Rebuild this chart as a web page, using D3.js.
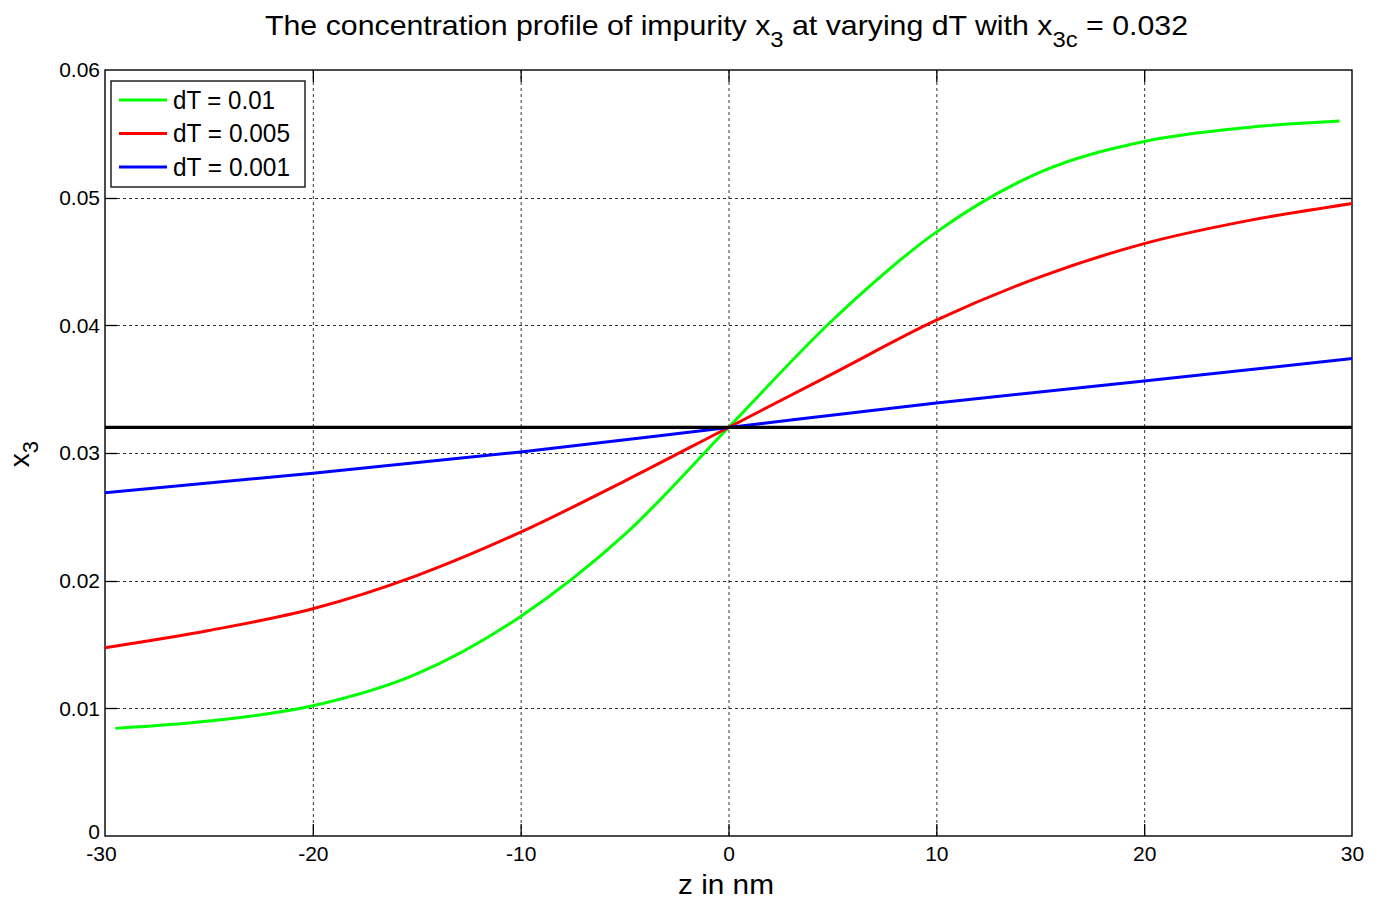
<!DOCTYPE html>
<html>
<head>
<meta charset="utf-8">
<script src="https://cdn.jsdelivr.net/npm/d3@7"></script>
<style>
  html, body { margin: 0; padding: 0; background: #fff; }
  svg { display: block; font-family: "Liberation Sans", Arial, sans-serif; }
</style>
</head>
<body>
<svg id="chart" width="1380" height="899"></svg>
<script>
// Concentration of impurity x3 across the interface, z in nm
const zGreen  = [-29.5, -25, -20, -15, -10, -5, 0, 5, 10, 15, 20, 25, 29.4];
const x3Green = [0.00843, 0.0090, 0.0102, 0.0127, 0.0172, 0.0236, 0.0320, 0.0404, 0.0473, 0.0520, 0.0544, 0.0555, 0.0560];

const zRed  = [-30, -25, -20, -15, -10, -5, 0, 5, 10, 15, 20, 25, 30];
const x3Red = [0.01475, 0.0161, 0.0178, 0.0204, 0.0238, 0.0278, 0.0320, 0.0362, 0.0404, 0.0438, 0.0464, 0.0482, 0.04955];

const zBlue  = [-30, -20, -10, 0, 10, 20, 30];
const x3Blue = [0.02689, 0.02842, 0.03008, 0.0320, 0.03392, 0.03564, 0.0374];

const x3c = 0.032;

const seriesNames  = ["dT = 0.01", "dT = 0.005", "dT = 0.001"];
const seriesColors = ["#00ff00", "#ff0000", "#0000ff"];

const xTicks = [-30, -20, -10, 0, 10, 20, 30];
const xTickLabels = ["-30", "-20", "-10", "0", "10", "20", "30"];
const yTicks = [0, 0.01, 0.02, 0.03, 0.04, 0.05, 0.06];
const yTickLabels = ["0", "0.01", "0.02", "0.03", "0.04", "0.05", "0.06"];

const series = [
  { name: seriesNames[0], color: seriesColors[0], pts: zGreen.map((z, i) => [z, x3Green[i]]) },
  { name: seriesNames[1], color: seriesColors[1], pts: zRed.map((z, i) => [z, x3Red[i]]) },
  { name: seriesNames[2], color: seriesColors[2], pts: zBlue.map((z, i) => [z, x3Blue[i]]) }
];

const svg = d3.select("#chart");
const L = 105, R = 1352, T = 70, B = 836;

const x = d3.scaleLinear().domain([-30, 30]).range([L, R]);
const y = d3.scaleLinear().domain([0, 0.06]).range([B, T]);

// dotted grid
const grid = svg.append("g").attr("stroke", "#000").attr("stroke-width", 1)
  .attr("stroke-dasharray", "3,3").attr("fill", "none");
xTicks.slice(1, -1).forEach(t => {
  grid.append("line").attr("x1", x(t) + 0.5).attr("x2", x(t) + 0.5).attr("y1", T).attr("y2", B).attr("stroke-opacity", 0.8);
});
yTicks.slice(1, -1).forEach(t => {
  grid.append("line").attr("x1", L).attr("x2", R).attr("y1", Math.round(y(t)) + 0.5).attr("y2", Math.round(y(t)) + 0.5).attr("stroke-opacity", 0.8);
});

// axes; tick marks drawn inward on all four sides below
const tickLen = 12;
const axB = d3.axisBottom(x).tickValues(xTicks).tickSize(0).tickPadding(10).tickFormat((d, i) => xTickLabels[i]);
const axL = d3.axisLeft(y).tickValues(yTicks).tickSize(0).tickPadding(5).tickFormat((d, i) => yTickLabels[i]);

const gB = svg.append("g").attr("transform", `translate(0,${B})`).call(axB);
const gL = svg.append("g").attr("transform", `translate(${L},0)`).call(axL);
[gB, gL].forEach(g => {
  g.select(".domain").remove();
  g.selectAll("text").attr("font-size", 21).attr("fill", "#000")
    .attr("font-family", "'Liberation Sans', Arial, sans-serif");
});
gL.selectAll("text").attr("dy", "0.32em");
gL.selectAll(".tick").filter(d => d === 0).select("text").attr("dy", "0.1em");
gB.selectAll(".tick").filter(d => d === -30).select("text").attr("dx", "-4");

const ticks = svg.append("g").attr("stroke", "#000").attr("stroke-width", 1.3);
xTicks.slice(1, -1).forEach(t => {
  ticks.append("line").attr("x1", x(t) + 0.5).attr("x2", x(t) + 0.5).attr("y1", B).attr("y2", B - tickLen);
  ticks.append("line").attr("x1", x(t) + 0.5).attr("x2", x(t) + 0.5).attr("y1", T).attr("y2", T + tickLen);
});
yTicks.slice(1, -1).forEach(t => {
  ticks.append("line").attr("x1", L).attr("x2", L + tickLen).attr("y1", Math.round(y(t)) + 0.5).attr("y2", Math.round(y(t)) + 0.5);
  ticks.append("line").attr("x1", R).attr("x2", R - tickLen).attr("y1", Math.round(y(t)) + 0.5).attr("y2", Math.round(y(t)) + 0.5);
});

// plot frame
svg.append("rect").attr("x", L).attr("y", T).attr("width", R - L).attr("height", B - T)
  .attr("fill", "none").attr("stroke", "#000").attr("stroke-width", 1.4);

// profiles
const line = d3.line().x(d => x(d[0])).y(d => y(d[1])).curve(d3.curveMonotoneX);
const plot = svg.append("g");
series.forEach(s => {
  plot.append("path").datum(s.pts).attr("d", line)
    .attr("fill", "none").attr("stroke", s.color).attr("stroke-width", 3)
    .attr("stroke-linejoin", "round");
});

// critical concentration x3c
plot.append("line").attr("x1", x(-30)).attr("x2", x(30)).attr("y1", y(x3c)).attr("y2", y(x3c))
  .attr("stroke", "#000").attr("stroke-width", 3.2);

// legend
const lg = svg.append("g");
lg.append("rect").attr("x", 111).attr("y", 81).attr("width", 194).attr("height", 106)
  .attr("fill", "#fff").attr("stroke", "#000").attr("stroke-width", 1.3);
series.forEach((s, i) => {
  const cy = 100 + i * 33.5;
  lg.append("line").attr("x1", 119).attr("x2", 167).attr("y1", cy).attr("y2", cy)
    .attr("stroke", s.color).attr("stroke-width", 3);
  lg.append("text").attr("x", 173).attr("y", cy).attr("dy", "0.35em")
    .attr("font-size", 25).attr("fill", "#000").text(s.name)
    .attr("textLength", i === 0 ? 102 : 117).attr("lengthAdjust", "spacingAndGlyphs");
});

// title with subscripts
const title = svg.append("text").attr("x", 726.5).attr("y", 35).attr("text-anchor", "middle")
  .attr("font-size", 28).attr("fill", "#000");
title.append("tspan").text("The concentration profile of impurity x");
title.append("tspan").attr("dy", 12).attr("font-size", 22).text("3");
title.append("tspan").attr("dy", -12).text(" at varying dT with x");
title.append("tspan").attr("dy", 12).attr("font-size", 22).text("3c");
title.append("tspan").attr("dy", -12).text(" = 0.032");
title.attr("textLength", 923).attr("lengthAdjust", "spacingAndGlyphs");

// axis labels
svg.append("text").attr("x", 726).attr("y", 894).attr("text-anchor", "middle")
  .attr("font-size", 28).attr("fill", "#000").attr("textLength", 96).attr("lengthAdjust", "spacingAndGlyphs")
  .text("z in nm");

const yl = svg.append("text").attr("transform", "translate(29,454) rotate(-90)")
  .attr("text-anchor", "middle").attr("font-size", 28).attr("fill", "#000");
yl.append("tspan").text("x");
yl.append("tspan").attr("dy", 9).attr("font-size", 22).text("3");
</script>
</body>
</html>
